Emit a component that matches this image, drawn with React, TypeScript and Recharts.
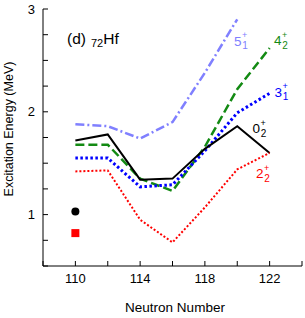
import React from "react";
import { ComposedChart, Line, XAxis, YAxis } from "recharts";

const neutrons = [110, 112, 114, 116, 118, 120, 122];
const fivePlus1 = [1.88, 1.86, 1.74, 1.9, 2.38, 2.9, null];
const fourPlus2 = [1.68, 1.68, 1.35, 1.23, 1.66, 2.22, 2.62];
const threePlus1 = [1.55, 1.55, 1.27, 1.29, 1.62, 1.99, 2.18];
const zeroPlus2 = [1.72, 1.78, 1.34, 1.35, 1.64, 1.86, 1.6];
const twoPlus2 = [1.42, 1.43, 0.95, 0.73, 1.07, 1.44, 1.6];
const expZero = [1.03, null, null, null, null, null, null];
const expTwo = [0.82, null, null, null, null, null, null];

const xTicks = [108, 110, 112, 114, 116, 118, 120, 122, 124];
const xLabels = [110, 114, 118, 122];
const yTicks = [0.5, 0.75, 1, 1.25, 1.5, 1.75, 2, 2.25, 2.5, 2.75, 3];
const yLabels = [1, 2, 3];

const data = neutrons.map((n, i) => ({
  n,
  five: fivePlus1[i],
  four: fourPlus2[i],
  three: threePlus1[i],
  zero: zeroPlus2[i],
  two: twoPlus2[i],
  e0: expZero[i],
  e2: expTwo[i],
}));

const FONT = "'Liberation Sans', Arial, sans-serif";

const Square = (props: any) => {
  const { cx, cy } = props;
  if (cx == null || cy == null) return null;
  return <rect x={cx - 4} y={cy - 4} width={8} height={8} fill="#ff0000" />;
};

// level label like 5^+_1, subscript stacked under the plus
function StateLabel({ x, y, n, sub, color }: { x: number; y: number; n: string; sub: string; color: string }) {
  return (
    <text x={x} y={y} fill={color} fontSize={13.5} fontFamily={FONT}>
      {n}
      <tspan fontSize={9} dx={0.5} dy={-7.5}>+</tspan>
      <tspan fontSize={10} dx={-5} dy={11}>{sub}</tspan>
    </text>
  );
}

export default function App() {
  return (
    <div style={{ position: "absolute", left: 0, top: 0, width: 305, height: 318, fontFamily: FONT }}>
      <ComposedChart width={305} height={318} data={data} margin={{ top: 9, right: 3, bottom: 0, left: 0 }}>
        <XAxis
          dataKey="n"
          type="number"
          domain={[108, 124]}
          ticks={xTicks}
          allowDataOverflow
          tickFormatter={(v: number) => (xLabels.includes(v) ? String(v) : "")}
          tickSize={-5}
          tickMargin={13}
          stroke="#000"
          tick={{ fill: "#000", fontSize: 13, fontFamily: FONT }}
          height={52}
        />
        <XAxis
          xAxisId="top"
          dataKey="n"
          type="number"
          orientation="top"
          domain={[108, 124]}
          ticks={xTicks}
          allowDataOverflow
          tickSize={-5}
          tick={false}
          height={0}
          stroke="#000"
        />
        <YAxis
          type="number"
          domain={[0.5, 3]}
          ticks={yTicks}
          allowDataOverflow
          tickFormatter={(v: number) => (yLabels.includes(v) ? String(v) : "")}
          tickSize={-5}
          tickMargin={13}
          width={43}
          stroke="#000"
          tick={{ fill: "#000", fontSize: 13, fontFamily: FONT }}
        />
        <YAxis
          yAxisId="right"
          orientation="right"
          type="number"
          domain={[0.5, 3]}
          ticks={yTicks}
          allowDataOverflow
          tickSize={-5}
          tick={false}
          width={0}
          stroke="#000"
        />
        <Line dataKey="five" stroke="#8080ff" strokeWidth={2.5} strokeDasharray="9 3 2 3" dot={false} isAnimationActive={false} type="linear" />
        <Line dataKey="four" stroke="#138a13" strokeWidth={2.5} strokeDasharray="9 4" dot={false} isAnimationActive={false} type="linear" />
        <Line dataKey="three" stroke="#0000ff" strokeWidth={3} strokeDasharray="2.5 2.5" dot={false} isAnimationActive={false} type="linear" />
        <Line dataKey="zero" stroke="#000000" strokeWidth={2} dot={false} isAnimationActive={false} type="linear" />
        <Line dataKey="two" stroke="#ff0000" strokeWidth={2} strokeDasharray="2 2" dot={false} isAnimationActive={false} type="linear" />
        <Line dataKey="e0" stroke="none" dot={{ r: 4, fill: "#000", stroke: "none" }} isAnimationActive={false} />
        <Line dataKey="e2" stroke="none" dot={<Square />} isAnimationActive={false} />
      </ComposedChart>
      <svg width={305} height={318} style={{ position: "absolute", left: 0, top: 0, pointerEvents: "none" }}>
        <text x={67} y={44} fontSize={15.5} fontFamily={FONT} fill="#000">
          (d)
          <tspan fontSize={11} dx={5} dy={3}>72</tspan>
          <tspan fontSize={15.5} dy={-3}>Hf</tspan>
        </text>
        <StateLabel x={234} y={45.5} n="5" sub="1" color="#8080ff" />
        <StateLabel x={274} y={45} n="4" sub="2" color="#138a13" />
        <StateLabel x={274.5} y={96.7} n="3" sub="1" color="#0000ff" />
        <StateLabel x={252.5} y={133.3} n="0" sub="2" color="#000000" />
        <StateLabel x={256} y={178.3} n="2" sub="2" color="#ff0000" />
        <text x={175} y={312} fontSize={13.5} fontFamily={FONT} textAnchor="middle" fill="#000">
          Neutron Number
        </text>
        <text
          x={0}
          y={0}
          fontSize={12.5}
          fontFamily={FONT}
          textAnchor="middle"
          fill="#000"
          transform="translate(13,129) rotate(-90)"
        >
          Excitation Energy (MeV)
        </text>
      </svg>
    </div>
  );
}
